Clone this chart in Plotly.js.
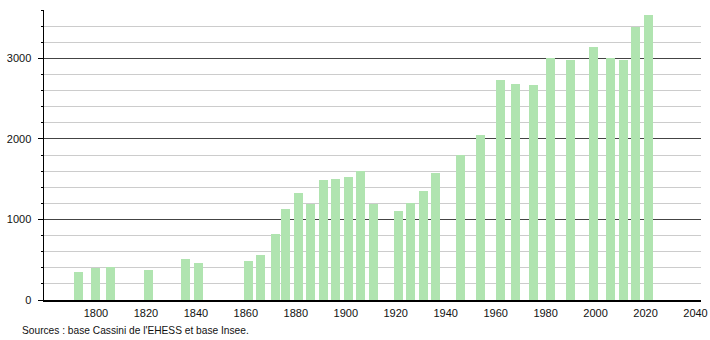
<!DOCTYPE html>
<html>
<head>
<meta charset="utf-8">
<script src="https://cdn.plot.ly/plotly-3.0.1.min.js"></script>
<style>
html,body{margin:0;padding:0;background:#fff;}
#chart{width:710px;height:340px;}
</style>
</head>
<body>
<div id="chart"></div>
<script>
const years = [1793, 1800, 1806, 1821, 1836, 1841, 1861, 1866, 1872, 1876, 1881, 1886, 1891, 1896, 1901, 1906, 1911, 1921, 1926, 1931, 1936, 1946, 1954, 1962, 1968, 1975, 1982, 1990, 1999, 2006, 2011, 2016, 2021];
const population = [353, 403, 415, 378, 515, 465, 490, 561, 823, 1135, 1334, 1193, 1484, 1496, 1521, 1604, 1197, 1101, 1209, 1347, 1571, 1800, 2045, 2735, 2681, 2668, 3000, 2980, 3146, 3000, 2980, 3383, 3533];
const xTickVals = [1800, 1820, 1840, 1860, 1880, 1900, 1920, 1940, 1960, 1980, 2000, 2020, 2040];
const yTickVals = [0, 1000, 2000, 3000];
const sourceText = "Sources : base Cassini de l'EHESS et base Insee.";

const font = {family: 'Liberation Sans, Arial, sans-serif', size: 11, color: '#111'};

const trace = {
  type: 'bar',
  x: years,
  y: population,
  width: 3.6,
  marker: {color: 'rgb(176,228,176)', line: {width: 0}},
  hoverinfo: 'x+y'
};

const layout = {
  width: 710, height: 340,
  margin: {l: 44, r: 9, t: 10, b: 40},
  paper_bgcolor: '#fff', plot_bgcolor: '#fff',
  font: font,
  showlegend: false,
  bargap: 0,
  xaxis: {
    range: [1779.2, 2042.2],
    tickmode: 'array', tickvals: xTickVals,
    ticks: '', showgrid: false, zeroline: false,
    showline: true, linecolor: '#000', linewidth: 1.5,
    tickfont: font, ticklabelstandoff: 2
  },
  yaxis: {
    range: [0, 3600],
    tickmode: 'array', tickvals: yTickVals,
    ticks: 'outside', ticklen: 5, tickcolor: '#000', tickwidth: 1,
    showgrid: true, gridcolor: '#444', gridwidth: 1,
    zeroline: false,
    showline: true, linecolor: '#000', linewidth: 1.5,
    tickfont: font, ticklabelstandoff: 4,
    minor: {dtick: 200, tick0: 0, showgrid: true, gridcolor: '#cccccc', gridwidth: 1, ticks: 'outside', ticklen: 2, tickcolor: '#000'}
  },
  annotations: [{
    text: sourceText, xref: 'paper', yref: 'paper',
    x: -0.036, y: -0.078, xanchor: 'left', yanchor: 'top',
    showarrow: false, font: {family: 'Liberation Sans, Arial, sans-serif', size: 10.2, color: '#111'}
  }]
};

Plotly.newPlot('chart', [trace], layout, {staticPlot: true, displayModeBar: false});
</script>
</body>
</html>
